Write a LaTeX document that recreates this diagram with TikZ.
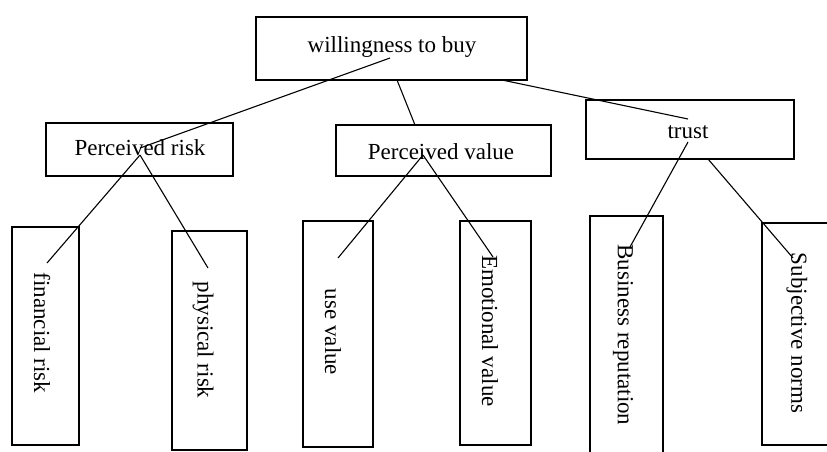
\documentclass[tikz,border=0pt]{standalone}
\usepackage{fontspec}
\setmainfont{Liberation Serif}
\begin{document}
\begin{tikzpicture}[x=1pt,y=-1pt,
  box/.style={draw=black,line width=1.1pt,inner sep=0pt},
  lbl/.style={inner sep=0pt,font=\fontsize{23}{27}\selectfont},
  vlbl/.style={inner sep=0pt,font=\fontsize{23}{27}\selectfont,rotate=-90},
  conn/.style={draw=black,line width=1.1pt}]
\useasboundingbox (0,0) rectangle (827,451);
% boxes
\node[box,minimum width=271pt,minimum height=63pt] (top) at (391.5,48.5) {};
\node[box,minimum width=187pt,minimum height=53pt] (pr) at (139.5,149.5) {};
\node[box,minimum width=215pt,minimum height=51pt] (pv) at (443.5,150.5) {};
\node[box,minimum width=208pt,minimum height=59pt] (tr) at (690,129.5) {};
\node[box,minimum width=67pt,minimum height=218pt] (fr) at (45.5,336) {};
\node[box,minimum width=75pt,minimum height=219pt] (ph) at (209.5,340.5) {};
\node[box,minimum width=70pt,minimum height=226pt] (uv) at (338,334) {};
\node[box,minimum width=71pt,minimum height=224pt] (ev) at (495.5,333) {};
\node[box,minimum width=73pt,minimum height=250pt] (br) at (626.5,341) {};
\node[box,minimum width=80pt,minimum height=222pt] (sn) at (802,334) {};
% labels
\node[lbl] (ttop) at (392,47) {willingness to buy};
\node[lbl] (tpr) at (140,148) {Perceived risk};
\node[lbl] (tpv) at (441,152) {Perceived value};
\node[lbl] (ttr) at (688,132) {trust};
\node[vlbl] (tfr) at (42,333) {financial risk};
\node[vlbl] (tph) at (203,340) {physical risk};
\node[vlbl] (tuv) at (333,332) {use value};
\node[vlbl] (tev) at (490,331) {Emotional value};
\node[vlbl] (tbr) at (623,335) {Business reputation};
\node[vlbl] (tsn) at (797,333) {Subjective norms};
% connector end points
\coordinate (a1) at (390,58);
\coordinate (a2) at (140,148);
\coordinate (b1) at (397,80);
\coordinate (b2) at (415,125);
\coordinate (c1) at (502,80);
\coordinate (c2) at (688,119);
\coordinate (d0) at (140,155);
\coordinate (d1) at (47,263);
\coordinate (d2) at (208,268);
\coordinate (e0) at (423,155);
\coordinate (e1) at (338,258);
\coordinate (e2) at (493,257);
\coordinate (f0) at (688,142);
\coordinate (f1) at (630,247);
\coordinate (g0) at (708,159);
\coordinate (g1) at (793,258);
% connectors
\draw[conn] (a1) -- (a2);
\draw[conn] (b1) -- (b2);
\draw[conn] (c1) -- (c2);
\draw[conn] (d0) -- (d1);
\draw[conn] (d0) -- (d2);
\draw[conn] (e0) -- (e1);
\draw[conn] (e0) -- (e2);
\draw[conn] (f0) -- (f1);
\draw[conn] (g0) -- (g1);
\end{tikzpicture}
\end{document}
